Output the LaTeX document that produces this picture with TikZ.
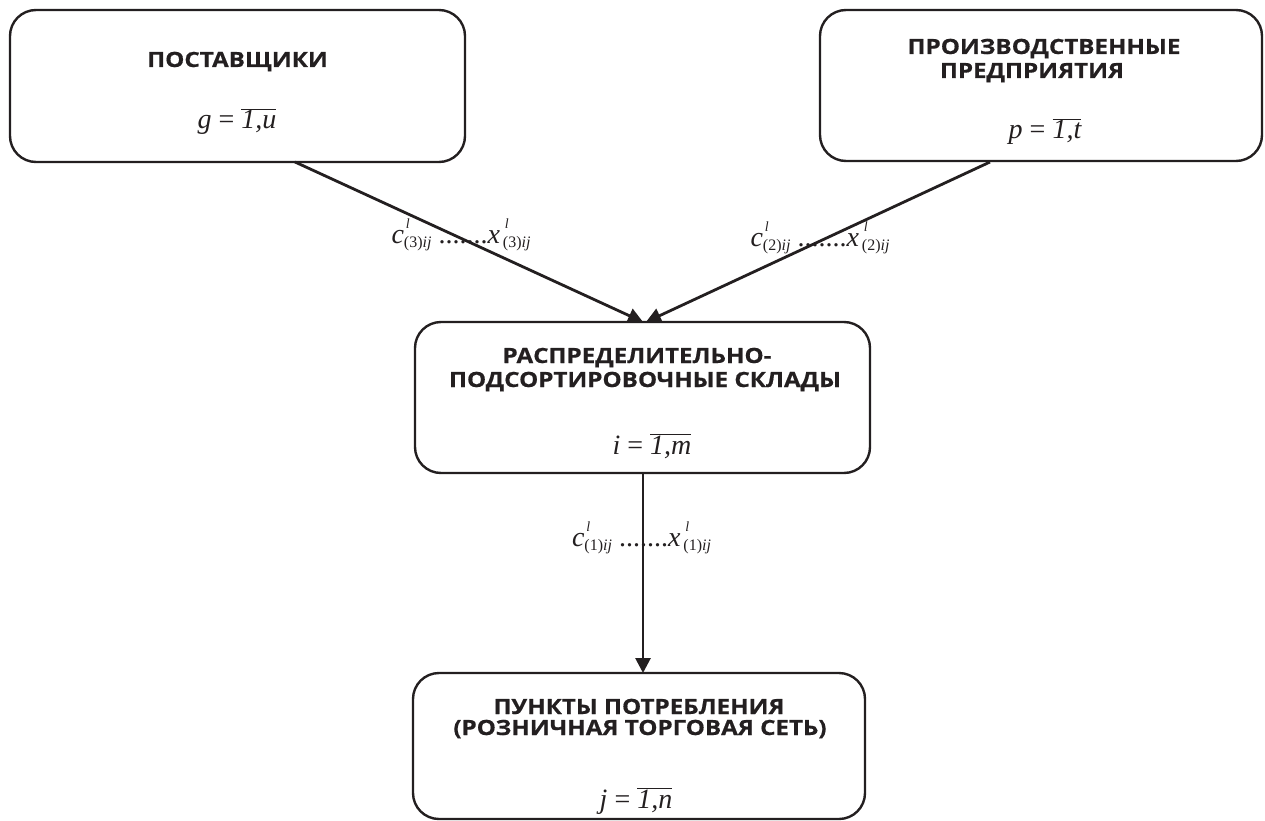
\documentclass[tikz,border=0pt]{standalone}
\usepackage{fontspec}
\setmainfont{Liberation Serif}
\newfontfamily\hdfont{Open Sans}[FakeStretch=1.15,BoldFeatures={FakeBold=0.6}]
\usetikzlibrary{arrows.meta}
\definecolor{ink}{HTML}{231F20}
\newcommand{\fml}[2]{\fontsize{28}{28}\selectfont\itshape #1 \upshape= $\overline{\mbox{\itshape 1,#2}}$}
\newcommand{\cvar}[3]{\textit{#1}\hspace{#3}\raisebox{15pt}{\rlap{\hspace{2pt}\fontsize{14}{14}\selectfont\itshape l}}\raisebox{-4pt}{\fontsize{16}{16}\selectfont(#2)\itshape ij}}
\newcommand{\lbl}[1]{\fontsize{28}{28}\selectfont\cvar{c}{#1}{0pt} .......\cvar{x}{#1}{3pt}}
\begin{document}
\begin{tikzpicture}[x=1pt,y=-1pt,
  box/.style={draw=ink,line width=2.4pt,rounded corners=26pt,minimum width=#1,inner sep=0pt},
  hd/.style={anchor=base,inner sep=0pt,text=ink,font=\hdfont\bfseries\fontsize{21}{21}\selectfont},
  fm/.style={anchor=base,inner sep=0pt,text=ink},
  lb/.style={anchor=base,inner sep=0pt,text=ink},
  conn/.style={draw=ink,line width=2.8pt,-{Triangle[length=15pt,width=15pt]}}]
\useasboundingbox (0,0) rectangle (1265,821);
% boxes
\node[box=455pt,minimum height=152pt] (b1) at (237.5,86) {};
\node[box=442pt,minimum height=151pt] (b2) at (1041,85.5) {};
\node[box=455pt,minimum height=151pt] (b3) at (642.5,397.5) {};
\node[box=452pt,minimum height=146pt] (b4) at (639,746) {};
% texts
\node[hd] (t1) at (237.5,67) {ПОСТАВЩИКИ};
\node[hd] (t2a) at (1044,54) {ПРОИЗВОДСТВЕННЫЕ};
\node[hd] (t2b) at (1032,78) {ПРЕДПРИЯТИЯ};
\node[hd] (t3a) at (637,363) {РАСПРЕДЕЛИТЕЛЬНО-};
\node[hd] (t3b) at (645,387) {ПОДСОРТИРОВОЧНЫЕ СКЛАДЫ};
\node[hd] (t4a) at (639,714) {ПУНКТЫ ПОТРЕБЛЕНИЯ};
\node[hd] (t4b) at (640,735) {(РОЗНИЧНАЯ ТОРГОВАЯ СЕТЬ)};
\node[fm] (f1) at (237,129) {\fml{g}{u}};
\node[fm] (f2) at (1045,139) {\fml{p}{t}};
\node[fm] (f3) at (652,454) {\fml{i}{m}};
\node[fm] (f4) at (636,808) {\fml{j}{n}};
% connectors
\coordinate (s1) at (295,162);
\coordinate (s2) at (990,162);
\coordinate (e1) at (643,322);
\coordinate (e2) at (646,322);
\coordinate (s3) at (643,473);
\coordinate (e3) at (643,673);
\draw[conn] (s1) -- (e1);
\draw[conn] (s2) -- (e2);
\draw[conn] (s3) -- (e3);
% labels
\node[lb] (l1) at (461,243) {\lbl{3}};
\node[lb] (l2) at (820,246) {\lbl{2}};
\node[lb] (l3) at (641.5,546) {\lbl{1}};
\end{tikzpicture}
\end{document}
